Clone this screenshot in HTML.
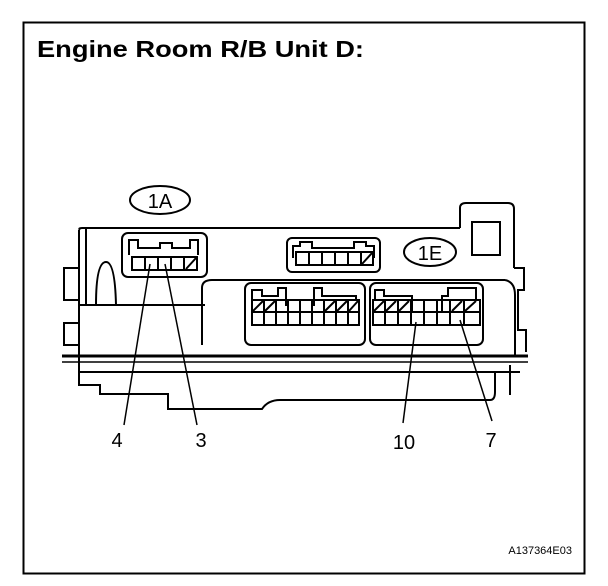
<!DOCTYPE html>
<html><head><style>
html,body{margin:0;padding:0;background:#fff;}
svg{display:block;}
text{font-family:"Liberation Sans",Arial,sans-serif;fill:#000;}
</style></head><body>
<svg width="608" height="586" viewBox="0 0 608 586" xmlns="http://www.w3.org/2000/svg">
<rect x="23.5" y="22.5" width="561" height="551" fill="none" stroke="#000" stroke-width="2"/>
<text x="37" y="57" font-size="23" font-weight="bold" textLength="327" lengthAdjust="spacingAndGlyphs">Engine Room R/B Unit D:</text>
<g fill="none" stroke="#000" stroke-width="2">
<ellipse cx="160" cy="200" rx="30" ry="14"/>
<path d="M80 230 Q78 228 82 228 L460 228"/>
<path d="M79 230 L79 372"/>
<path d="M86 229 L86 305"/>
<path d="M79 268 L64 268 L64 300 L79 300"/>
<path d="M79 323 L64 323 L64 345 L79 345"/>
<path d="M96 305 Q96 262 106 262 Q115 262 116 305"/>
<path d="M80 305 L205 305"/>
<path d="M202 345 L202 288 Q202 280 212 280 L505 280"/>
<path d="M505 280 Q515 282 515 295 L515 355"/>
<path d="M460 228 L460 208 Q460 203 466 203 L508 203 Q514 203 514 209 L514 268"/>
<rect x="472" y="222" width="28" height="33"/>
<path d="M514 268 L524 268 L524 290 L518 290 L518 330 L526 330 L526 352"/>
<path d="M62 356 L528 356" stroke-width="3"/>
<path d="M62 362 L528 362" stroke-width="1.5"/>
<path d="M79 372 L520 372"/>
<path d="M79 372 L79 385 L100 385 L100 394 L168 394 L168 409 L262 409 Q268 400 280 400 L490 400 Q495 400 495 392 L495 372"/>
<path d="M510 365 L510 395"/>
<rect x="122" y="233" width="85" height="44" rx="6"/>
<path d="M129 255 L129 240 L138 240 L138 248 L160 248 L160 243 L172 243 L172 248 L190 248 L190 240 L198 240 L198 255"/>
<rect x="132" y="257" width="65" height="13"/>
<path d="M145 257 L145 270 M158 257 L158 270 M171 257 L171 270 M184 257 L184 270 M186 269 L196 258"/>
<rect x="287" y="238" width="93" height="34" rx="5"/>
<path d="M293 258 L293 246 L300 246 L300 242 L312 242 L312 248 L354 248 L354 242 L366 242 L366 246 L374 246 L374 258"/>
<rect x="296" y="252" width="77" height="13"/>
<path d="M309 252 L309 265 M322 252 L322 265 M335 252 L335 265 M348 252 L348 265 M361 252 L361 265 M362 264 L372 253"/>
<ellipse cx="430" cy="252" rx="26" ry="14"/>
<rect x="245" y="283" width="120" height="62" rx="6"/>
<path d="M252 300 L252 290 L262 290 L262 296 L278 296 L278 288 L286 288 L286 306 M314 306 L314 288 L322 288 L322 296 L356 296 L356 300"/>
<rect x="252" y="300" width="107" height="25"/>
<path d="M252 312 L359 312 M264 300 L264 325 M276 300 L276 325 M288 300 L288 325 M300 300 L300 325 M312 300 L312 325 M324 300 L324 325 M336 300 L336 325 M348 300 L348 325"/>
<path d="M253 311 L263 301 M265 311 L275 301 M325 311 L335 301 M337 311 L347 301 M349 311 L358 301"/>
<rect x="370" y="283" width="113" height="62" rx="6"/>
<path d="M375 300 L375 290 L384 290 L384 296 L412 296 L412 312 M442 312 L442 296 L448 296 L448 288 L476 288 L476 300"/>
<rect x="373" y="300" width="107" height="25"/>
<path d="M373 312 L480 312 M385 300 L385 325 M398 300 L398 325 M411 300 L411 325 M424 300 L424 325 M437 300 L437 325 M450 300 L450 325 M464 300 L464 325"/>
<path d="M374 311 L384 301 M386 311 L396 301 M399 311 L409 301 M452 311 L462 301 M465 311 L476 301"/>
<path d="M150 264 L124 425" stroke-width="1.5"/>
<path d="M165 264 L197 425" stroke-width="1.5"/>
<path d="M416 322 L403 423" stroke-width="1.5"/>
<path d="M460 320 L492 421" stroke-width="1.5"/>
</g>
<text x="160" y="208" font-size="20" text-anchor="middle">1A</text>
<text x="430" y="260" font-size="20" text-anchor="middle">1E</text>
<text x="117" y="447" font-size="20" text-anchor="middle">4</text>
<text x="201" y="447" font-size="20" text-anchor="middle">3</text>
<text x="404" y="449" font-size="20" text-anchor="middle">10</text>
<text x="491" y="447" font-size="20" text-anchor="middle">7</text>
<text x="572" y="554" font-size="11" text-anchor="end">A137364E03</text>
</svg>
</body></html>
